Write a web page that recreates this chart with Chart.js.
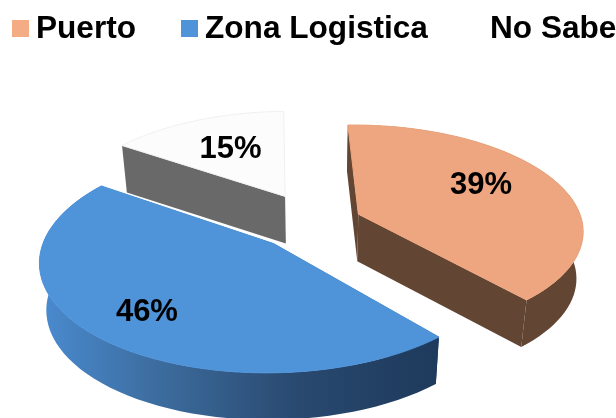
<!DOCTYPE html>
<html>
<head>
<meta charset="utf-8">
<script src="https://cdn.jsdelivr.net/npm/chart.js@4/dist/chart.umd.min.js"></script>
<style>
    html, body { margin: 0; padding: 0; background: #fff; }
    #wrap { position: relative; width: 616px; height: 418px; overflow: hidden; }
    #pie { position: absolute; left: 0; top: 0; }
    .key { position: absolute; left: 0; top: 0; font: bold 31.6px "Liberation Sans", Arial, sans-serif; line-height: 32px; color: #000; white-space: nowrap; }
    .key i { position: absolute; top: 20px; width: 17px; height: 17px; }
    .key span { position: absolute; top: 11px; }
</style>
</head>
<body>
<div id="wrap">
    <canvas id="pie" width="616" height="418"></canvas>
    <div class="key" id="key"></div>
</div>
<script>
const categories = ['Puerto', 'Zona Logistica', 'No Sabe'];
const shares = [39, 46, 15];
const shareLabels = ['39%', '46%', '15%'];

const topColors = ['#EDA67F', '#4F93D9', '#FCFCFC'];
const wallColors = ['#624633', null, '#696969'];

// vista de la torta en perspectiva
const view = { x0: 315, y0: 222, sx: 224, ky: 104, dist: 7, depth: 47, taper: 0.975 };

function project(u, w, drop) {
    const p = 1 / (1 + w / view.dist);
    const x = view.x0 + view.sx * u * p;
    const y = view.y0 - view.ky * w * p;
    return drop ? [view.x0 + (x - view.x0) * view.taper, y + view.depth] : [x, y];
}

const pie3d = {
    id: 'pie3d',
    beforeDatasetsDraw(chart) {
        const ctx = chart.ctx;
        const arcs = chart.getDatasetMeta(0).data;
        // de atras hacia adelante
        [2, 0, 1].forEach(i => {
            const arc = arcs[i];
            const R = arc.outerRadius;
            const mid = (arc.startAngle + arc.endAngle) / 2;
            const cu = Math.cos(mid) * arc.options.offset / R;
            const cw = -Math.sin(mid) * arc.options.offset / R;
            const rim = [];
            const steps = 60;
            for (let s = 0; s <= steps; s++) {
                const a = arc.startAngle + (arc.endAngle - arc.startAngle) * s / steps;
                rim.push([cu + Math.cos(a), cw - Math.sin(a)]);
            }
            const first = rim[0], last = rim[steps];

            let wall = wallColors[i];
            if (!wall) {
                wall = ctx.createLinearGradient(40, 0, 437, 0);
                wall.addColorStop(0, '#4A8BD0');
                wall.addColorStop(0.3, '#3C6C9E');
                wall.addColorStop(0.65, '#29496F');
                wall.addColorStop(1, '#1E3A5C');
            }

            function quad(pts) {
                ctx.beginPath();
                pts.forEach((pt, n) => n ? ctx.lineTo(pt[0], pt[1]) : ctx.moveTo(pt[0], pt[1]));
                ctx.closePath();
                ctx.fill();
            }

            ctx.fillStyle = wall;
            quad([project(cu, cw), project(first[0], first[1]), project(first[0], first[1], true), project(cu, cw, true)]);
            // la cara del final y el borde de No Sabe no se ven en el original
            if (i !== 2) {
                quad([project(cu, cw), project(last[0], last[1]), project(last[0], last[1], true), project(cu, cw, true)]);
                quad(rim.map(q => project(q[0], q[1])).concat(rim.slice().reverse().map(q => project(q[0], q[1], true))));
            }

            ctx.fillStyle = topColors[i];
            ctx.strokeStyle = i === 2 ? '#F0F0F0' : topColors[i];
            ctx.lineWidth = 1;
            ctx.beginPath();
            const c = project(cu, cw);
            ctx.moveTo(c[0], c[1]);
            rim.forEach(q => { const pt = project(q[0], q[1]); ctx.lineTo(pt[0], pt[1]); });
            ctx.closePath();
            ctx.fill();
            ctx.stroke();
        });

        // etiquetas de porcentaje
        const labelRadius = [0.63, 0.79, 0.6];
        const labelShift = [[-2, -6], [10, -2], [1, 1]];
        ctx.fillStyle = '#000';
        ctx.font = 'bold 31px "Liberation Sans", Arial, sans-serif';
        ctx.textAlign = 'center';
        ctx.textBaseline = 'middle';
        arcs.forEach((arc, i) => {
            const R = arc.outerRadius;
            const mid = (arc.startAngle + arc.endAngle) / 2;
            const r = labelRadius[i] + arc.options.offset / R;
            const pt = project(Math.cos(mid) * r, -Math.sin(mid) * r);
            ctx.fillText(shareLabels[i], pt[0] + labelShift[i][0], pt[1] + labelShift[i][1]);
        });
        return false;
    }
};

new Chart(document.getElementById('pie').getContext('2d'), {
    type: 'pie',
    data: {
        labels: categories,
        datasets: [{
            data: shares,
            backgroundColor: topColors,
            borderWidth: 0,
            radius: 100,
            rotation: -1.5,
            offset: [21, 27, 29]
        }]
    },
    options: {
        responsive: false,
        animation: false,
        plugins: {
            legend: { display: false },
            tooltip: { enabled: false }
        }
    },
    plugins: [pie3d]
});

// leyenda en html, la del canvas deja mucho espacio junto al cuadro
const keySquareX = [12, 181, 467];
const keyTextX = [36, 205, 490];
const key = document.getElementById('key');
categories.forEach((name, i) => {
    const box = document.createElement('i');
    box.style.left = keySquareX[i] + 'px';
    box.style.background = i === 2 ? '#fff' : ['#F4AC84', '#4F93D9'][i];
    key.appendChild(box);
    const text = document.createElement('span');
    text.style.left = keyTextX[i] + 'px';
    text.textContent = name;
    key.appendChild(text);
});
</script>
</body>
</html>
